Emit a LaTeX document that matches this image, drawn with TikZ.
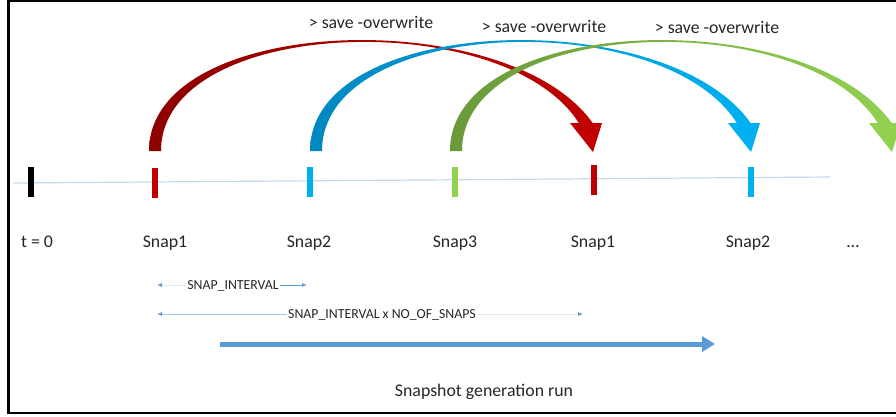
\documentclass[tikz,border=0pt]{standalone}
\usepackage{fontspec}
\setmainfont{Carlito}
\usetikzlibrary{arrows.meta}
\definecolor{snapred}{HTML}{C00000}
\definecolor{snapdred}{HTML}{8E0000}
\definecolor{snapblue}{HTML}{00B0F0}
\definecolor{snapdblue}{HTML}{0088C0}
\definecolor{snapgreen}{HTML}{92D050}
\definecolor{snapdgreen}{HTML}{6A9A3A}
\definecolor{runblue}{HTML}{5B9BD5}
\definecolor{axisblue}{HTML}{C5D9EE}
\tikzset{
  lbl/.style={anchor=base,inner sep=1pt,text=black!85,font=\fontsize{17.8}{20}\selectfont},
  smalllbl/.style={lbl,font=\fontsize{13.8}{16}\selectfont},
  tickmark/.style={line width=6pt},
  intv/.style={line width=0.8pt,-{Latex[length=5pt,width=4pt,color=runblue]}},
}
\begin{document}
\begin{tikzpicture}[x=1pt,y=-1pt]
  \clip (0,0) rectangle (896,416);
  \draw[line width=2.5pt] (896,1) -- (8.5,1) -- (8.5,413) -- (896,413);
  \draw[axisblue,line width=1.2pt] (13,183) -- (830,177);
  \foreach \x/\c/\y in {31/black/167, 155/snapred/168, 310/snapblue/167, 455/snapgreen/167, 594/snapred/165, 751/snapblue/167}
    \draw[tickmark,\c] (\x,\y) -- (\x,{\y+30});
  \foreach \x/\lab/\nm in {37/t = 0/t0, 165/Snap1/sa, 309/Snap2/sb, 455/Snap3/sc, 593/Snap1/sd, 748/Snap2/se}
    \node[lbl] (\nm) at (\x,247) {\lab};
  \node[lbl] (more) at (853,247) {\ldots};
  \foreach \s/\e/\c in {155/587/red, 316/745/blue, 456/886/green} {
    \shade[left color=snapd\c,right color=snap\c] ({\s-6},151) .. controls ({\s-6},13) and ({\e-75},3) .. ({\e+7},125)
      -- ({\e-7},125) .. controls ({\e-78},5.5) and ({\s+6},15.5) .. ({\s+6},151) -- cycle;
    \fill[snap\c] ({\e-17},123) -- ({\e+15},123) -- ({\e+6},152) -- cycle;
  }
  \foreach \x/\y/\nm in {371/28/sva, 544/32/svb, 717/33/svc}
    \node[lbl] (\nm) at (\x,\y) {> save -overwrite};
  \node[smalllbl] (ivl) at (233,289) {SNAP\_INTERVAL};
  \coordinate (ivlA) at (157,285);
  \coordinate (ivlB) at (307,285);
  \draw[intv,runblue!20] (ivlA -| ivl.west) -- (ivlA);
  \draw[intv,runblue] (ivlB -| ivl.east) -- (ivlB);
  \node[smalllbl] (ivn) at (382,318) {SNAP\_INTERVAL x NO\_OF\_SNAPS};
  \coordinate (ivnA) at (157,314);
  \coordinate (ivnB) at (583,314);
  \draw[intv,runblue!55] (ivnA -| ivn.west) -- (ivnA);
  \draw[intv,runblue!20] (ivnB -| ivn.east) -- (ivnB);
  \coordinate (runA) at (220,344);
  \coordinate (runB) at (715,344);
  \draw[runblue,line width=5pt,-{Triangle[length=13pt,width=15pt]}] (runA) -- (runB);
  \node[lbl] (run) at (484,396) {Snapshot generation run};
\end{tikzpicture}
\end{document}
